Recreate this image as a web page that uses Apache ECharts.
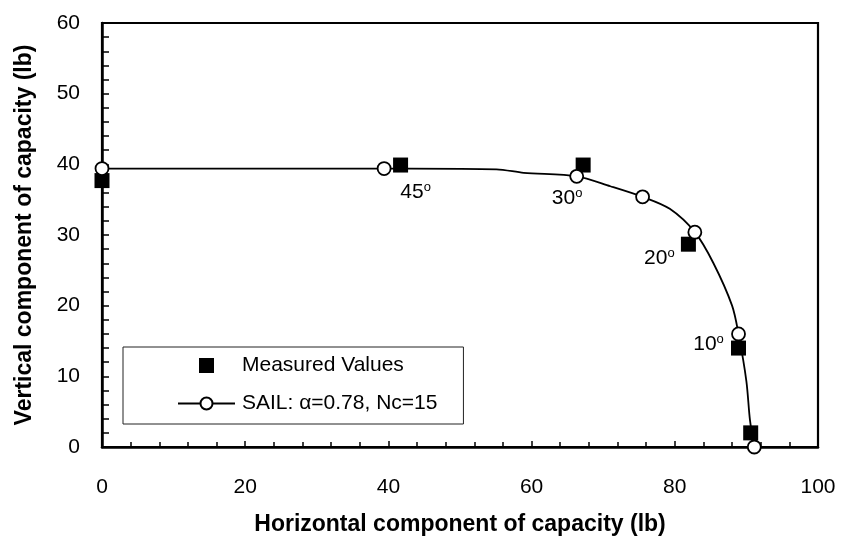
<!DOCTYPE html>
<html>
<head>
<meta charset="utf-8">
<script src="https://cdn.jsdelivr.net/npm/echarts@6/dist/echarts.min.js"></script>
<style>
  html, body { margin: 0; padding: 0; background: #fff; }
  #chart { width: 842px; height: 541px; }
</style>
</head>
<body>
<div id="chart"></div>
<script>
// Measured capacity components (lb)
const measuredX = [0, 41.7, 67.2, 81.9, 88.9, 90.6];
const measuredY = [37.7, 39.9, 39.9, 28.7, 14.0, 2.0];
// Loading angle annotations attached to measured points (null = no label)
const angleLabels = [null, '45', '30', '20', '10', null];

// SAIL prediction curve; markerFlags marks the points drawn with a circle
const sailX = [0, 39.4, 42.8, 55.1, 58.9, 66.3, 71.0, 75.5, 79.3, 82.8, 85.4, 88.0, 88.9, 90.0, 90.5, 91.1];
const sailY = [39.4, 39.4, 39.4, 39.3, 38.8, 38.3, 36.9, 35.4, 33.7, 30.4, 26.0, 20.0, 16.0, 9.3, 3.8, 0];
const markerFlags = [1, 1, 0, 0, 0, 1, 0, 1, 0, 1, 0, 0, 1, 0, 0, 1];

// Axis settings
const xTicks = { min: 0, max: 100, interval: 20 };
const yTicks = { min: 0, max: 60, interval: 10 };

const FONT = '"Liberation Sans", Arial, sans-serif';

// label offsets relative to each measured symbol's centre
const labelOffsets = [null, [15, 27], [-16, 33], [-29, 14], [-30, -4], null];

const measuredData = measuredX.map((x, i) => {
  const item = { value: [x, measuredY[i]] };
  if (angleLabels[i]) {
    item.label = {
      show: true,
      position: 'inside',
      offset: labelOffsets[i],
      formatter: '{n|' + angleLabels[i] + '}{s|o}',
      rich: {
        n: { fontSize: 21, fontFamily: FONT, color: '#000' },
        s: { fontSize: 13, fontFamily: FONT, color: '#000', padding: [0, 0, 9, 0] }
      }
    };
  }
  return item;
});

const sailData = sailX.map((x, i) => {
  const item = { value: [x, sailY[i]] };
  if (!markerFlags[i]) item.symbol = 'none';
  return item;
});

const chart = echarts.init(document.getElementById('chart'), null, { renderer: 'canvas' });

chart.setOption({
  animation: false,
  backgroundColor: '#fff',
  textStyle: { fontFamily: FONT, color: '#000' },
  grid: {
    left: 102, right: 24, top: 23, bottom: 87,
    show: true, borderColor: '#000', borderWidth: 2.2, backgroundColor: 'transparent'
  },
  legend: {
    orient: 'vertical',
    left: 123, top: 347,
    padding: [8, 26, 10, 54],
    itemGap: 17,
    itemWidth: 57, itemHeight: 15,
    symbolKeepAspect: true,
    borderColor: '#222', borderWidth: 1,
    backgroundColor: '#fff',
    textStyle: { fontSize: 21, fontFamily: FONT, color: '#000', padding: [0, 0, 0, 2] },
    data: [
      { name: 'Measured Values', icon: 'path://M0,0h10v10h-10z' },
      { name: 'SAIL: α=0.78, Nc=15' }
    ]
  },
  xAxis: {
    type: 'value',
    min: xTicks.min, max: xTicks.max, interval: xTicks.interval,
    name: 'Horizontal component of capacity (lb)',
    nameLocation: 'middle', nameGap: 66,
    nameTextStyle: { fontSize: 23, fontWeight: 'bold', fontFamily: FONT, color: '#000' },
    axisLine: { show: true, lineStyle: { color: '#000', width: 2.5 } },
    axisTick: { show: true, inside: true, length: 6, lineStyle: { color: '#000', width: 1.5 } },
    minorTick: { show: true, splitNumber: 5, length: 5, lineStyle: { color: '#000', width: 1.5 } },
    axisLabel: { fontSize: 21, fontFamily: FONT, color: '#000', margin: 30 },
    splitLine: { show: false }
  },
  yAxis: {
    type: 'value',
    min: yTicks.min, max: yTicks.max, interval: yTicks.interval,
    name: 'Vertical component of capacity (lb)',
    nameLocation: 'middle', nameGap: 66,
    nameTextStyle: { fontSize: 23, fontWeight: 'bold', fontFamily: FONT, color: '#000' },
    axisLine: { show: true, lineStyle: { color: '#000', width: 2.5 } },
    axisTick: { show: true, inside: true, length: 7, lineStyle: { color: '#000', width: 1.5 } },
    minorTick: { show: true, splitNumber: 5, length: 7, lineStyle: { color: '#000', width: 1.5 } },
    axisLabel: { fontSize: 21, fontFamily: FONT, color: '#000', margin: 22 },
    splitLine: { show: false }
  },
  series: [
    {
      name: 'Measured Values',
      type: 'scatter',
      symbol: 'rect',
      symbolSize: 15,
      itemStyle: { color: '#000', opacity: 1 },
      emphasis: { disabled: true },
      z: 2,
      data: measuredData
    },
    {
      name: 'SAIL: α=0.78, Nc=15',
      type: 'line',
      smooth: 0.3,
      symbol: 'circle',
      symbolSize: 13,
      showAllSymbol: true,
      itemStyle: { color: '#fff', borderColor: '#000', borderWidth: 1.8 },
      lineStyle: { color: '#000', width: 1.8 },
      z: 3,
      data: sailData
    }
  ]
});
</script>
</body>
</html>
